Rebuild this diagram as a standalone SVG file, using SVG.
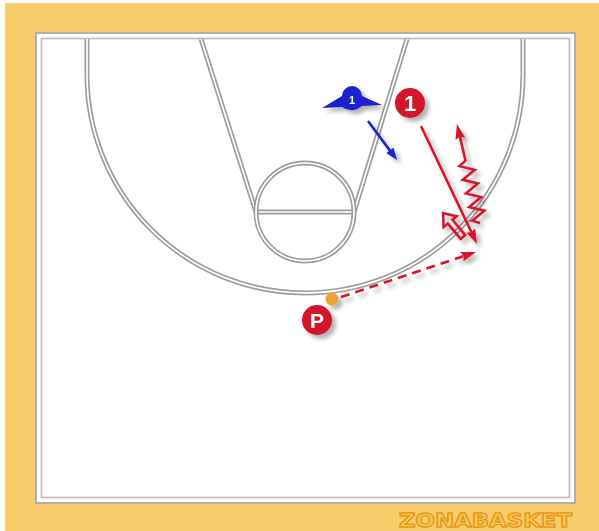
<svg xmlns="http://www.w3.org/2000/svg" width="599" height="531" viewBox="0 0 599 531">
<style>
.lo{fill:none;stroke:#9c9c9c;stroke-width:5}
.li{fill:none;stroke:#ffffff;stroke-width:1.7}
.red{stroke:#d8142b;fill:none;stroke-width:2.6}
.pl{fill:#d3122c}
.lbl{font-family:"Liberation Sans",Arial,sans-serif;font-weight:bold;fill:#fff;text-anchor:middle}
</style>
<defs>
<filter id="sh" filterUnits="userSpaceOnUse" x="0" y="0" width="599" height="531">
<feGaussianBlur in="SourceAlpha" stdDeviation="2"/>
<feOffset dx="4" dy="4"/>
<feComponentTransfer><feFuncA type="linear" slope="0.3"/></feComponentTransfer>
<feMerge><feMergeNode/><feMergeNode in="SourceGraphic"/></feMerge>
</filter>
<marker id="ahR" markerWidth="16" markerHeight="10" refX="7" refY="5" orient="auto" markerUnits="userSpaceOnUse">
<path d="M0,0 L15,5 L0,10 L2,5 Z" fill="#d8142b"/>
</marker>
<marker id="ahB" markerWidth="13" markerHeight="9" refX="6" refY="4.5" orient="auto" markerUnits="userSpaceOnUse">
<path d="M0,0 L12,4.5 L0,9 Z" fill="#1c22cc"/>
</marker>
</defs>

<rect x="0" y="0" width="599" height="531" fill="#ffffff"/>
<rect x="5" y="3" width="594" height="528" fill="#f6cd6a"/>

<g id="court">
<rect x="36" y="33" width="539" height="470" fill="#ffffff" stroke="#b0b0b0" stroke-width="2"/>
<rect x="41.5" y="38.5" width="528" height="459" fill="none" stroke="#c0c0c0" stroke-width="1.8"/>
<path class="lo" d="M87,39 L87,75 A218,218 0 0 0 523,75 L523,39"/>
<path class="li" d="M87,39 L87,75 A218,218 0 0 0 523,75 L523,39"/>
<path class="lo" d="M201,39 L256,212 M407,39 L354,212 M256,212 L354,212"/>
<path class="li" d="M201,39 L256,212 M407,39 L354,212 M256,212 L354,212"/>
<circle class="lo" cx="305" cy="212" r="49"/>
<circle class="li" cx="305" cy="212" r="49"/>
</g>

<g id="connectors" filter="url(#sh)">
<line x1="368" y1="121" x2="393.4" y2="155.2" stroke="#1c22cc" stroke-width="2.6" marker-end="url(#ahB)"/>
<line class="red" x1="421" y1="126" x2="473.6" y2="236.8" marker-end="url(#ahR)"/>
<path class="red" transform="translate(480,223) rotate(-103.1)" d="M0,0 L4,-7 L11,7 L18,-7 L25,7 L32,-7 L39,7 L46,-7 L53,7 L60,-7 L64,0 L93.6,0" marker-end="url(#ahR)"/>
<path class="red" stroke-width="2.2" stroke-linejoin="miter" transform="translate(463,237) rotate(-130)" d="M0,-3 L20,-3 L20,-8.5 L31,0 L20,8.5 L20,3 L0,3 Z"/>
<line class="red" x1="341" y1="297" x2="468.4" y2="254.5" stroke-width="3.2" stroke-dasharray="9 6" marker-end="url(#ahR)"/>
</g>

<g id="defender1" filter="url(#sh)">
<path d="M322,108 L342,96 A10,10 0 0 1 362,96 L382,105 L362,106 Q352,114 342,107 Z" fill="#1c22cc"/>
<text class="lbl" x="352" y="104" font-size="11">1</text>
</g>

<g id="player1" filter="url(#sh)">
<circle class="pl" cx="410" cy="103" r="15"/>
<text class="lbl" x="410" y="111" font-size="22">1</text>
</g>

<g id="playerP" filter="url(#sh)">
<circle class="pl" cx="317" cy="320" r="15"/>
<text class="lbl" x="317" y="328" font-size="21">P</text>
<circle cx="332" cy="299" r="6.5" fill="#f0a22e"/>
</g>

<text x="399" y="527" font-family="'DejaVu Sans',sans-serif" font-weight="bold" font-size="19" textLength="173" lengthAdjust="spacingAndGlyphs" fill="#f9c950" stroke="#e49a20" stroke-width="1.4">ZONABASKET</text>
</svg>
